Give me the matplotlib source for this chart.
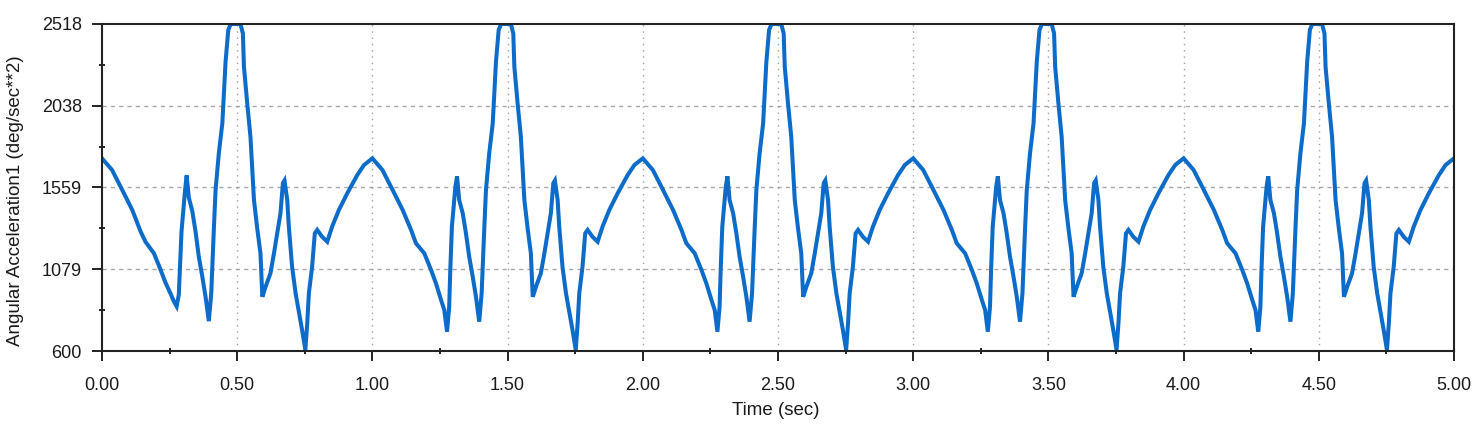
import numpy as np
import matplotlib
matplotlib.use("Agg")
import matplotlib.pyplot as plt
from matplotlib.ticker import FixedLocator

# time offsets inside one 1 s cycle (the motion repeats every second)
cycle_t = [0.000, 0.037, 0.075, 0.112, 0.143, 0.161, 0.192, 0.217, 0.235, 0.254,
           0.266, 0.276, 0.284, 0.288, 0.294, 0.307, 0.313, 0.321, 0.334, 0.346,
           0.358, 0.371, 0.383, 0.395, 0.404, 0.414, 0.420, 0.432, 0.445, 0.451,
           0.457, 0.467, 0.476, 0.512, 0.521, 0.525, 0.537, 0.549, 0.556, 0.562,
           0.574, 0.586, 0.593, 0.605, 0.623, 0.636, 0.648, 0.660, 0.669, 0.675,
           0.685, 0.691, 0.703, 0.716, 0.728, 0.740, 0.752, 0.759, 0.765, 0.777,
           0.787, 0.796, 0.814, 0.833, 0.851, 0.876, 0.907, 0.944, 0.969]

# first cycle: the dip near 0.28 s is shallower
cycle0_acc = [1730, 1662, 1544, 1427, 1300, 1240, 1173, 1075, 1000, 935,
              890, 862, 930, 1075, 1300, 1540, 1630, 1500, 1420, 1300,
              1153, 1036, 918, 775, 938, 1329, 1544, 1759, 1935, 2111,
              2297, 2483, 2518, 2518, 2463, 2267, 2053, 1857, 1662, 1486,
              1320, 1173, 918, 977, 1056, 1173, 1290, 1408, 1584, 1600,
              1486, 1329, 1094, 938, 830, 723, 606, 762, 938, 1094,
              1290, 1310, 1270, 1241, 1329, 1427, 1525, 1632, 1691]

# cycles 2..5
cycle_acc = [1730, 1662, 1544, 1427, 1310, 1232, 1173, 1075, 997, 899,
             840, 713, 860, 1075, 1329, 1564, 1625, 1486, 1408, 1290,
             1153, 1036, 918, 772, 938, 1329, 1544, 1759, 1935, 2111,
             2297, 2483, 2518, 2518, 2463, 2267, 2053, 1857, 1662, 1486,
             1320, 1173, 918, 977, 1056, 1173, 1290, 1408, 1584, 1600,
             1486, 1329, 1094, 938, 830, 723, 606, 762, 938, 1094,
             1290, 1310, 1270, 1241, 1329, 1427, 1525, 1632, 1691]

end_t, end_acc = 5.0, 1730

y_ticks = [600, 1079, 1559, 2038, 2518]
y_labels = ["600", "1079", "1559", "2038", "2518"]
x_ticks = [0.0, 0.5, 1.0, 1.5, 2.0, 2.5, 3.0, 3.5, 4.0, 4.5, 5.0]
x_labels = ["0.00", "0.50", "1.00", "1.50", "2.00", "2.50", "3.00", "3.50", "4.00", "4.50", "5.00"]

t = []
acc = []
for k in range(5):
    vals = cycle0_acc if k == 0 else cycle_acc
    t += [k + o for o in cycle_t]
    acc += vals
t.append(end_t)
acc.append(end_acc)

plt.rcParams['font.family'] = ['Liberation Sans', 'DejaVu Sans']
txt = '#1a1a1a'

fig = plt.figure(figsize=(14.78, 4.28), dpi=100)
ax = fig.add_axes([102 / 1478, 1 - 351 / 428, 1352 / 1478, 327 / 428])

ax.plot(t, acc, color='#0d6bc9', lw=2.9, solid_joinstyle='miter')

ax.set_xlim(0, 5)
ax.set_ylim(600, 2518)

ax.xaxis.set_major_locator(FixedLocator(x_ticks))
ax.set_xticklabels(x_labels)
ax.xaxis.set_minor_locator(FixedLocator([0.25, 0.75, 1.25, 1.75, 2.25, 2.75, 3.25, 3.75, 4.25, 4.75]))
ax.yaxis.set_major_locator(FixedLocator(y_ticks))
ax.set_yticklabels(y_labels)
ax.yaxis.set_minor_locator(FixedLocator([839.5, 1319, 1798.5, 2278]))

# grid: dashed horizontals, dotted verticals, skip the ends
for yv in y_ticks[1:-1]:
    ax.axhline(yv, color='#a8a8a8', lw=1.0, ls=(0, (3, 3)), zorder=0)
for xv in x_ticks[1:-1]:
    ax.axvline(xv, color='#a0a0a0', lw=1.0, ls=(0, (1, 3.5)), zorder=0)

for s in ax.spines.values():
    s.set_linewidth(1.5)
    s.set_color('#222222')

ax.tick_params(which='major', direction='out', length=7.5, width=1.4, colors='#222222',
               labelsize=13, labelcolor=txt)
ax.tick_params(axis='x', which='major', pad=11)
ax.tick_params(axis='y', which='major', pad=7)
ax.tick_params(which='minor', direction='inout', length=5, width=1.4, colors='#222222')

ax.set_xlabel("Time (sec)", fontsize=13.5, color=txt)
ax.set_ylabel("Angular Acceleration1 (deg/sec**2)", fontsize=13.5, color=txt)
ax.xaxis.set_label_coords(0.4985, -0.155)
ax.yaxis.set_label_coords(-0.058, 0.46)

fig.savefig("out.png", dpi=100)
